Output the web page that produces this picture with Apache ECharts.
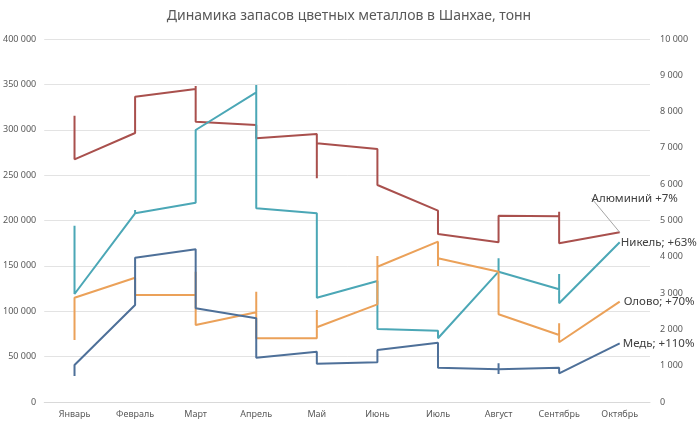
<!DOCTYPE html>
<html>
<head>
<meta charset="utf-8">
<script src="https://cdn.jsdelivr.net/npm/echarts@6/dist/echarts.min.js"></script>
<style>
    html, body { margin: 0; padding: 0; background: #fff; }
    #chart { width: 698px; height: 429px; }
</style>
</head>
<body>
<div id="chart"></div>
<script>
// months on the x axis
const months = ['Январь', 'Февраль', 'Март', 'Апрель', 'Май', 'Июнь', 'Июль', 'Август', 'Сентябрь', 'Октябрь'];

// weekly stocks, grouped by month (left axis, tonnes)
const aluminum = [
    [315500, 267400],
    [296400, 336400],
    [344900, 348200, 308900],
    [305200, 290600],
    [295300, 246500, 285100],
    [278800, 239100],
    [210800, 185100],
    [176000, 205300],
    [204600, 209700, 174900],
    [187000]
];
const copper = [
    [28650, 40770],
    [106900, 159000],
    [168300, 103200],
    [92200, 48800],
    [55400, 42200],
    [43700, 57300],
    [65300, 37800],
    [36000, 42600, 30900, 36000],
    [37800, 31600],
    [64700]
];

// right axis, tonnes
const nickel = [
    [4857, 2975],
    [5198, 5289, 5198],
    [5490, 7493],
    [8532, 8733, 5336],
    [5198, 2873],
    [3333, 2011],
    [1964, 1755],
    [3590, 3959, 3590],
    [3105, 3526, 2719],
    [4399]
];
const tin = [
    [1708, 2873],
    [3424, 2948],
    [2948, 3590, 2121],
    [2471, 3039, 1755],
    [1755, 2534, 2058],
    [2691, 4022, 3727],
    [4416, 3747, 3959],
    [3590, 2416],
    [1846, 2168, 1645],
    [2763]
];

const leftTicks = { min: 0, max: 400000, interval: 50000 };
const rightTicks = { min: 0, max: 10000, interval: 1000 };

const fontFamily = '"Noto Sans", sans-serif';
const labelColor = '#595959';

const fmt = (v) => String(v).replace(/\B(?=(\d{3})+(?!\d))/g, ' ');

// flatten month groups into [month, value] points, last point gets the end label
function toPoints(groups, endLabel) {
    const points = [];
    groups.forEach((vals, i) => {
        vals.forEach((v) => points.push([months[i], v]));
    });
    const last = points.pop();
    points.push({ value: last, label: endLabel });
    return points;
}

function endLabel(text) {
    return {
        show: true,
        position: 'right',
        distance: 1,
        formatter: text,
        color: '#404040',
        fontSize: 11.5,
        fontFamily: fontFamily
    };
}

function lineSeries(name, color, yAxisIndex, data, extra) {
    return {
        name: name,
        type: 'line',
        yAxisIndex: yAxisIndex,
        symbol: 'circle',
        symbolSize: 0,
        showSymbol: true,
        showAllSymbol: true,
        lineStyle: { color: color, width: 2 },
        itemStyle: { color: color },
        data: data,
        z: 3,
        ...extra
    };
}

const chart = echarts.init(document.getElementById('chart'), null, { renderer: 'canvas' });

chart.setOption({
    animation: false,
    backgroundColor: '#ffffff',
    title: {
        text: 'Динамика запасов цветных металлов в Шанхае, тонн',
        left: 'center',
        top: 4,
        textStyle: {
            color: labelColor,
            fontSize: 14,
            fontWeight: 'normal',
            fontFamily: fontFamily
        }
    },
    grid: {
        left: 43,
        right: 48,
        top: 39,
        bottom: 27,
        containLabel: false
    },
    xAxis: {
        type: 'category',
        data: months,
        boundaryGap: true,
        axisLine: { lineStyle: { color: '#d9d9d9' } },
        axisTick: { show: false },
        axisLabel: {
            color: labelColor,
            fontSize: 9,
            fontFamily: fontFamily,
            margin: 8,
            interval: 0
        }
    },
    yAxis: [
        {
            type: 'value',
            ...leftTicks,
            axisLine: { show: false },
            axisTick: { show: false },
            splitLine: { lineStyle: { color: '#e3e3e3' } },
            axisLabel: {
                color: labelColor,
                fontSize: 9,
                fontFamily: fontFamily,
                margin: 8,
                formatter: fmt
            }
        },
        {
            type: 'value',
            position: 'right',
            ...rightTicks,
            axisLine: { show: false },
            axisTick: { show: false },
            splitLine: { show: false },
            axisLabel: {
                color: labelColor,
                fontSize: 9,
                fontFamily: fontFamily,
                margin: 10,
                formatter: fmt
            }
        }
    ],
    series: [
        lineSeries('Алюминий', '#a9504d', 0, toPoints(aluminum, {
            ...endLabel('Алюминий +7%'),
            position: 'top'
        }), {
            labelLayout: { dx: 15, dy: -27 },
            labelLine: { show: true, lineStyle: { color: '#a6a6a6', width: 1 } }
        }),
        lineSeries('Никель', '#4ba7b6', 1, toPoints(nickel, endLabel('Никель; +63%'))),
        lineSeries('Олово', '#eba159', 1, toPoints(tin, {
            ...endLabel('Олово; +70%'),
            distance: 4
        })),
        lineSeries('Медь', '#4e7099', 0, toPoints(copper, {
            ...endLabel('Медь; +110%'),
            distance: 3
        }))
    ]
});
</script>
</body>
</html>
